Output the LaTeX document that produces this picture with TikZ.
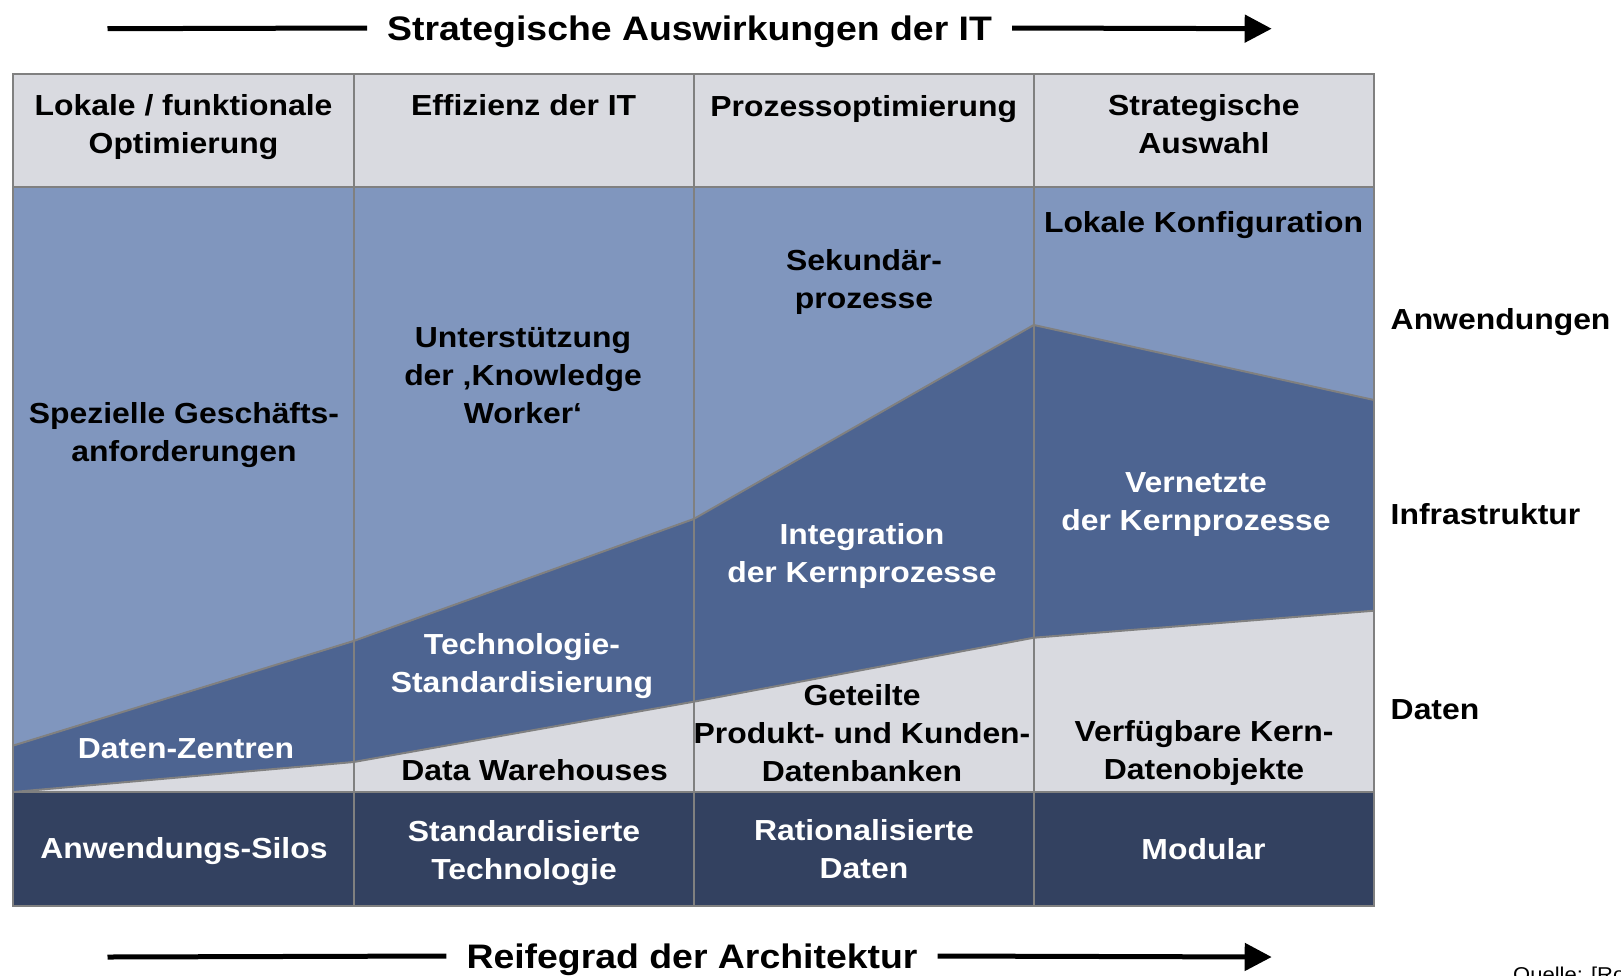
\documentclass[tikz,border=0pt]{standalone}
\usepackage{fontspec}
\setmainfont{Liberation Sans}[FakeStretch=1.1]
\usepackage{xcolor}
\usepackage{tikz}
\usetikzlibrary{arrows.meta}
\definecolor{appblue}{RGB}{128,150,190}
\definecolor{infrablue}{RGB}{77,100,145}
\definecolor{datagray}{RGB}{217,218,224}
\definecolor{stagenavy}{RGB}{51,65,96}
\definecolor{linegray}{RGB}{128,128,128}

\begin{document}
\begin{tikzpicture}[x=1pt,y=-1pt,
    celltext/.style={font=\fontsize{29}{38}\selectfont\bfseries,align=center,inner sep=0pt},
    whitetext/.style={celltext,text=white},
    axistitle/.style={font=\fontsize{34}{40}\selectfont\bfseries,inner xsep=20pt,inner ysep=0pt,text height=24pt,text depth=0pt},
    axisline/.style={line width=5pt},
    gridline/.style={linegray,line width=2pt}]

    \useasboundingbox (0,0) rectangle (1621,975);

    % Layers
    \fill[appblue] (13.4,187) rectangle (1374,792);
    \fill[infrablue] (13.4,745.5) -- (353.6,641) -- (693.7,519) -- (1033.8,325) -- (1374,400)
        -- (1374,610.7) -- (1033.8,637.7) -- (693.7,701.7) -- (353.6,762) -- (13.4,792) -- cycle;
    \fill[datagray] (13.4,792) -- (353.6,762) -- (693.7,701.7) -- (1033.8,637.7) -- (1374,610.7)
        -- (1374,792) -- cycle;
    \draw[gridline] (13.4,745.5) -- (353.6,641) -- (693.7,519) -- (1033.8,325) -- (1374,400);
    \draw[gridline] (13.4,792) -- (353.6,762) -- (693.7,701.7) -- (1033.8,637.7) -- (1374,610.7);

    % Header and stage row
    \fill[datagray] (13.4,74.4) rectangle (1374,187);
    \fill[stagenavy] (13.4,792) rectangle (1374,905.6);

    % Grid
    \draw[gridline] (13.4,187) -- (1374,187);
    \draw[gridline] (13.4,792) -- (1374,792);
    \foreach \x in {353.6,693.7,1033.8}
        \draw[gridline] (\x,74.4) -- (\x,905.6);
    \draw[gridline] (13.4,74.4) rectangle (1374,905.6);

    % Header
    \node[celltext] (head1) at (183.5,127.1) {Lokale / funktionale\\Optimierung};
    \node[celltext] (head2) at (523.6,105.5) {Effizienz der IT};
    \node[celltext] (head3) at (863.7,108.6) {Prozessoptimierung};
    \node[celltext] (head4) at (1203.9,124) {Strategische\\Auswahl};

    % Column 1
    \node[celltext] (app1) at (184,435.3) {Spezielle Geschäfts-\\anforderungen};
    \node[whitetext] (infra1) at (186,748.5) {Daten-Zentren};

    % Column 2
    \node[celltext] (app2) at (523,375.8) {Unterstützung\\der ‚Knowledge\\Worker‘};
    \node[whitetext] (infra2) at (522,665.6) {Technologie-\\Standardisierung};
    \node[celltext] (data2) at (534.5,770) {Data Warehouses};

    % Column 3
    \node[celltext] (app3) at (864,282.3) {Sekundär-\\prozesse};
    \node[whitetext] (infra3) at (862,555.6) {Integration\\der Kernprozesse};
    \node[celltext] (data3) at (862,733) {Geteilte\\Produkt- und Kunden-\\Datenbanken};

    % Column 4
    \node[celltext] (app4) at (1203.5,225.1) {Lokale Konfiguration};
    \node[whitetext] (infra4) at (1196,504.1) {Vernetzte\\der Kernprozesse};
    \node[celltext] (data4) at (1204,753) {Verfügbare Kern-\\Datenobjekte};

    % Stages
    \node[whitetext] (stage1) at (184,851) {Anwendungs-Silos};
    \node[whitetext] (stage2) at (524,852.6) {Standardisierte\\Technologie};
    \node[whitetext] (stage3) at (864,849.5) {Rationalisierte\\Daten};
    \node[whitetext] (stage4) at (1203.5,849) {Modular};

    % Layer names
    \node[celltext,anchor=west] (layerapp) at (1390.5,321.6) {Anwendungen};
    \node[celltext,anchor=west] (layerinfra) at (1390.5,514) {Infrastruktur};
    \node[celltext,anchor=west] (layerdata) at (1390.5,710) {Daten};

    % Axes
    \node[axistitle] (toptitle) at (689.6,28) {Strategische Auswirkungen der IT};
    \coordinate (topstart) at (107.5,28.7);
    \coordinate (topend) at (1271.7,28.7);
    \draw[axisline] (topstart) -- (toptitle.west);
    \draw[axisline,-{Triangle[length=27pt,width=27pt]}] (toptitle.east) -- (topend);

    \node[axistitle] (bottomtitle) at (692,956) {Reifegrad der Architektur};
    \coordinate (bottomstart) at (107.5,957);
    \coordinate (bottomend) at (1271.7,957);
    \draw[axisline] (bottomstart) -- (bottomtitle.west);
    \draw[axisline,-{Triangle[length=27pt,width=27pt]}] (bottomtitle.east) -- (bottomend);

    % Source
    \node[anchor=base west,inner sep=0pt,font=\fontsize{20}{24}\selectfont] (source) at (1513,981) {Quelle: [Ro};

\end{tikzpicture}
\end{document}
